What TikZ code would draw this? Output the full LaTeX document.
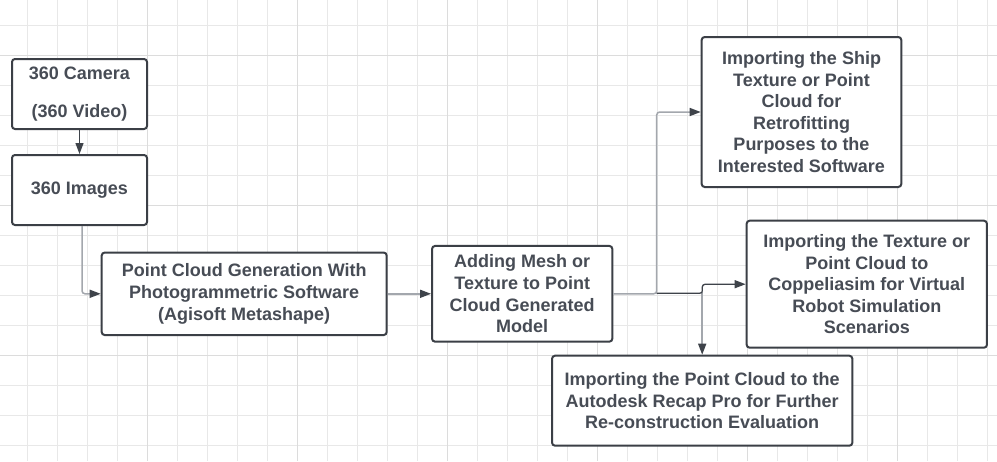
\documentclass[tikz,border=0pt]{standalone}
\usepackage{fontspec}
\setmainfont{Liberation Sans}
\usetikzlibrary{arrows.meta}
\definecolor{gridminor}{HTML}{E8E8E8}
\definecolor{gridmajor}{HTML}{DCDCDC}
\definecolor{boxline}{HTML}{3B3F46}
\definecolor{boxtext}{HTML}{474C55}
\definecolor{darkline}{HTML}{3E434A}
\definecolor{grayline}{HTML}{A3A7AD}
\tikzset{
  box/.style={draw=boxline, line width=2pt, rounded corners=3pt, fill=white,
    align=center, inner sep=0pt, text=boxtext,
    font=\fontsize{18}{21.6}\selectfont\bfseries},
  tip/.style={-{Triangle[length=11pt,width=8pt,color=darkline]}},
  conndark/.style={tip, draw=darkline, line width=1.3pt, rounded corners=3pt},
  conngray/.style={tip, draw=grayline, line width=1.5pt, rounded corners=3pt},
  minorgrid/.style={draw=gridminor, line width=1pt},
  majorgrid/.style={draw=gridmajor, line width=1pt}
}
\begin{document}
\begin{tikzpicture}[x=1pt,y=-1pt]
\fill[white] (0,0) rectangle (997,461);
\useasboundingbox (0,0) rectangle (997,461);
% grid
\foreach \i in {0,...,34} {\draw[minorgrid] ({-2.3+30*\i},0) -- ({-2.3+30*\i},461);}
\foreach \j in {0,...,15} {\draw[minorgrid] (0,{25+30*\j}) -- (997,{25+30*\j});}
\foreach \i in {0,...,6} {\draw[majorgrid] ({-2.3+150*\i},0) -- ({-2.3+150*\i},461);}
\foreach \j in {0,...,2} {\draw[majorgrid] (0,{55+150*\j}) -- (997,{55+150*\j});}
% nodes
\node[box, minimum width=135pt, minimum height=70pt] (cam) at (79.5,94) {360 Camera\\[16.4pt](360 Video)};
\node[box, minimum width=135pt, minimum height=70pt] (img) at (79.5,190) {360 Images};
\node[box, minimum width=285pt, minimum height=82.5pt] (pcg) at (244.2,293.8)
  {Point Cloud Generation With\\Photogrammetric Software\\(Agisoft Metashape)};
\node[box, minimum width=180.3pt, minimum height=95.7pt] (mesh) at (522.2,293.8)
  {Adding Mesh or\\Texture to Point\\Cloud Generated\\Model};
\node[box, minimum width=199.6pt, minimum height=150pt] (ship) at (801.5,112)
  {Importing the Ship\\Texture or Point\\Cloud for\\Retrofitting\\Purposes to the\\Interested Software};
\node[box, minimum width=240.3pt, minimum height=127pt] (cop) at (866.8,284.2)
  {Importing the Texture or\\Point Cloud to\\Coppeliasim for Virtual\\Robot Simulation\\Scenarios};
\node[box, minimum width=300.3pt, minimum height=90pt] (auto) at (702.2,400.7)
  {Importing the Point Cloud to the\\Autodesk Recap Pro for Further\\Re-construction Evaluation};
% junction coordinates
\coordinate (j1) at (656.7,293.2);
\coordinate (j2) at (702.2,293.2);
\coordinate (j3) at (702.2,288);
% connectors
\draw[conndark] (cam.south) -- (img.north);
\draw[conngray] ([xshift=2.5pt]img.south) |- (pcg.west);
\draw[conngray] (pcg.east) -- (mesh.west);
\draw[conngray] (mesh.east) -- (656.7,293.8) |- (ship.west);
\draw[conngray] (j2) -- (auto.north);
\draw[draw=darkline, line width=1.3pt] (j1) -- (699.7,293.2) .. controls (702.2,293.2) .. (j3);
\draw[conndark] (j3) |- (cop.west);
\end{tikzpicture}
\end{document}
